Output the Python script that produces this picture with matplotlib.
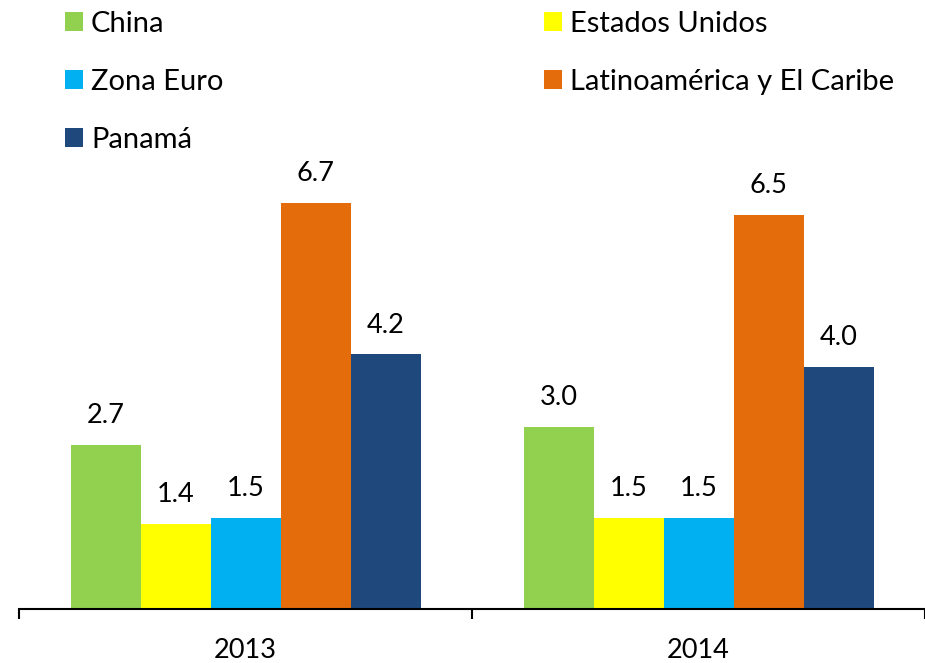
import matplotlib
matplotlib.use('Agg')
import matplotlib.pyplot as plt
import numpy as np

plt.rcParams['font.family'] = ['Lato', 'DejaVu Sans']

years = ['2013', '2014']
series = ['China', 'Estados Unidos', 'Zona Euro', 'Latinoamérica y El Caribe', 'Panamá']
china = [2.7, 3.0]
eeuu = [1.4, 1.5]
euro = [1.5, 1.5]
latam = [6.7, 6.5]
panama = [4.2, 4.0]
colors = ['#92D050', '#FFFF00', '#00B0F0', '#E46C0A', '#1F497D']

values = [china, eeuu, euro, latam, panama]

fig = plt.figure(figsize=(9.25, 6.63), dpi=100)
ax = fig.add_axes([19/925, 54.5/663, 906/925, 608.5/663])

x = np.arange(len(years))
w = 70/453
handles = []
for i, (vals, c, name) in enumerate(zip(values, colors, series)):
    pos = x + (i - 2) * w
    b = ax.bar(pos, vals, w, color=c, label=name)
    handles.append(b)
    for p, v in zip(pos, vals):
        ax.text(p, v + 0.28, f'{v:.1f}', ha='center', va='bottom', fontsize=19.5)

ax.set_xlim(-0.5, 1.5)
ax.set_ylim(0, 10.06)
for s in ['top', 'right', 'left']:
    ax.spines[s].set_visible(False)
ax.spines['bottom'].set_linewidth(1.5)
ax.set_yticks([])
ax.set_xticks([-0.5, 0.5, 1.5])
ax.set_xticklabels([])
ax.tick_params(axis='x', which='major', length=7, width=1.5, direction='out')
ax.set_xticks(x, minor=True)
ax.set_xticklabels(years, minor=True, fontsize=19.5)
ax.tick_params(axis='x', which='minor', length=0, pad=21)

order = [0, 2, 4, 1, 3]
leg = fig.legend([handles[i] for i in order], [series[i] for i in order],
                 ncol=2, loc='upper left', bbox_to_anchor=(65/925, 1 - 11/663),
                 frameon=False, fontsize=21, handlelength=0.62, handleheight=0.62,
                 handletextpad=0.27, labelspacing=1.1, columnspacing=11.0,
                 borderaxespad=0, borderpad=0)

fig.savefig('out.png', dpi=100)
